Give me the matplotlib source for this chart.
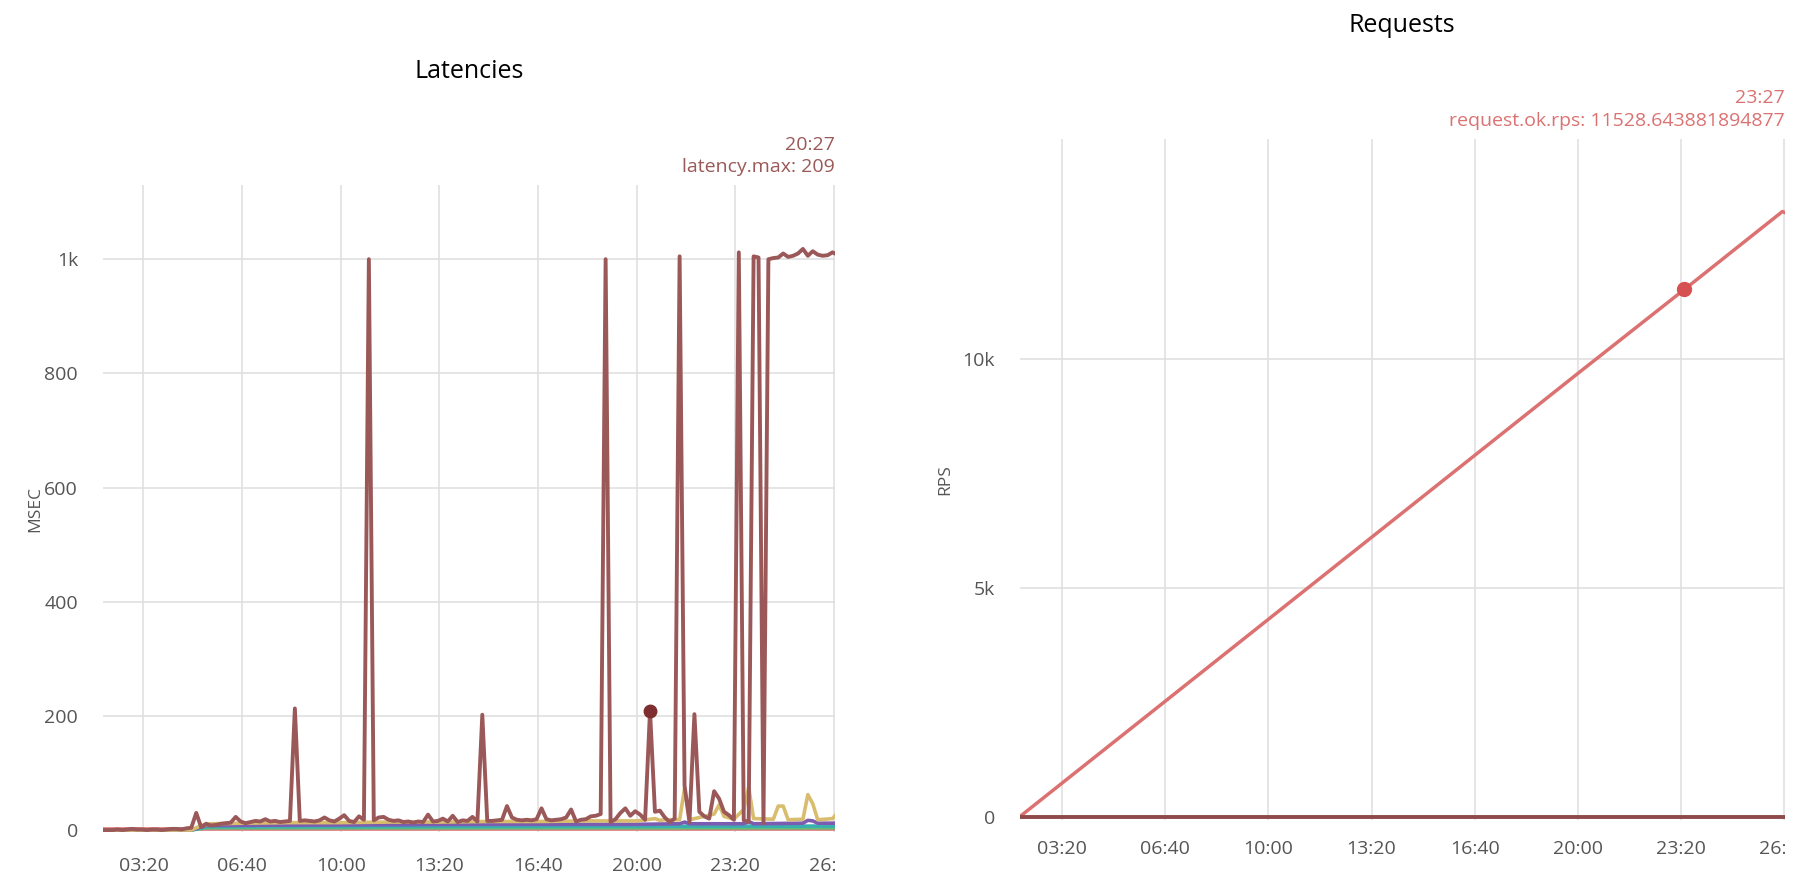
import matplotlib
matplotlib.use("Agg")
import matplotlib.pyplot as plt
import numpy as np
from matplotlib.ticker import FuncFormatter, FixedLocator
from matplotlib.transforms import Bbox, TransformedBbox

plt.rcParams['font.family'] = ['Open Sans', 'DejaVu Sans']

# latency.max, one sample every 10 minutes starting at 01:57
t_start, t_step = 117, 10
latency_max = [
    0, 0, 0, 1, 0, 1, 2, 1, 1, 0,
    1, 1, 0, 1, 2, 2, 1, 3, 4, 30,
    5, 11, 8, 9, 11, 12, 13, 23, 15, 12,
    14, 16, 15, 19, 15, 16, 14, 15, 16, 213,
    16, 17, 16, 15, 17, 22, 17, 15, 20, 26,
    16, 14, 24, 18, 1000, 17, 22, 23, 18, 16,
    17, 14, 15, 13, 15, 14, 27, 15, 16, 20,
    15, 25, 14, 17, 16, 23, 15, 202, 16, 16,
    17, 18, 42, 22, 18, 17, 18, 17, 19, 38,
    19, 17, 18, 19, 22, 36, 15, 18, 19, 24,
    25, 28, 1000, 14, 19, 30, 38, 25, 33, 27,
    18, 209, 32, 34, 22, 14, 20, 1005, 78, 14,
    203, 32, 24, 20, 68, 55, 32, 26, 18, 1012,
    17, 14, 1005, 1003, 12, 1000, 1002, 1003, 1010, 1004,
    1006, 1010, 1018, 1006, 1014, 1008, 1006, 1007, 1012, 1008,
]
lat_times = t_start + t_step * np.arange(len(latency_max))

yellow_times = [117, 297, 317, 337, 400, 500, 600, 700, 800, 900, 1000, 1100, 1200,
                1237, 1247, 1257, 1287, 1297, 1307, 1357, 1367, 1377, 1397, 1417,
                1427, 1437, 1477, 1487, 1497, 1507, 1537, 1547, 1557, 1567, 1597, 1607]
yellow_vals = [0, 0, 8, 11, 12, 13, 13, 14, 14, 15, 15, 16, 16,
               20, 17, 18, 18, 73, 18, 28, 44, 24, 19, 36,
               75, 20, 19, 42, 42, 18, 19, 62, 46, 18, 20, 30]

purple_times = [117, 297, 327, 600, 900, 1200, 1287, 1297, 1307, 1417, 1427, 1437,
                1537, 1547, 1557, 1567, 1607]
purple_vals = [0, 0, 8, 9, 10, 10, 11, 14, 11, 11, 15, 11, 12, 17, 16, 12, 12]

teal_times = [117, 297, 327, 1607]
teal_vals = [0, 0, 6, 7]
green_times = [117, 297, 327, 1607]
green_vals = [0, 0, 4, 4]
pink_times = [117, 1607]
pink_vals = [1, 1]

# requests
rps_times = [117, 400, 600, 800, 1000, 1200, 1407, 1597, 1607]
rps_vals = [0, 2530, 4320, 6110, 7900, 9690, 11528.643881894877, 13230, 13180]
err_times = [117, 1607]
err_vals = [0, 0]

lat_hover = "20:27"
rps_hover = "23:27"

x_ticks = [200, 400, 600, 800, 1000, 1200, 1400, 1600]
x_range = (118, 1602)

BROWN = '#9b5858'
SALMON = '#dc7171'
TICK_COLOR = '#555555'
GRID_COLOR = '#e0e0e0'


def to_min(s):
    h, m = s.split(':')
    return int(h) * 60 + int(m)


def fmt_time(v, pos=None):
    v = int(round(v))
    return f"{v // 60:02d}:{v % 60:02d}"


def fmt_k(v, pos=None):
    if v >= 1000:
        return f"{v / 1000:g}k"
    return f"{v:g}"


def style_axes(ax, yticks, ylim, xpad, ypad):
    ax.set_xlim(*x_range)
    ax.set_ylim(*ylim)
    ax.xaxis.set_major_locator(FixedLocator(x_ticks))
    ax.xaxis.set_major_formatter(FuncFormatter(fmt_time))
    ax.yaxis.set_major_locator(FixedLocator(yticks))
    ax.yaxis.set_major_formatter(FuncFormatter(fmt_k))
    ax.grid(True, color=GRID_COLOR, lw=1.2)
    ax.set_axisbelow(True)
    for sp in ax.spines.values():
        sp.set_visible(False)
    ax.tick_params(axis='x', length=0, pad=xpad, labelsize=14, labelcolor=TICK_COLOR)
    ax.tick_params(axis='y', length=0, pad=ypad, labelsize=14, labelcolor=TICK_COLOR)


fig = plt.figure(figsize=(18.12, 8.92), dpi=100)
ax1 = fig.add_axes([0.05684, 0.0669, 0.40397, 0.7257])
ax2 = fig.add_axes([0.5629, 0.0811, 0.4222, 0.7635])

# Latencies
ax1.plot(pink_times, pink_vals, color='#e07a7a', lw=2.6)
ax1.plot(green_times, green_vals, color='#5cbf7a', lw=2.6)
ax1.plot(teal_times, teal_vals, color='#3aaeb0', lw=2.6)
ax1.plot(purple_times, purple_vals, color='#7c5cb0', lw=2.6)
ax1.plot(yellow_times, yellow_vals, color='#d9bd6e', lw=2.6)
ax1.plot(lat_times, latency_max, color=BROWN, lw=2.8)
i = list(lat_times).index(to_min(lat_hover))
ax1.plot(lat_times[i], latency_max[i], 'o', color='#7e2e2e', ms=9)
style_axes(ax1, [0, 200, 400, 600, 800, 1000], (-4, 1130), 18, 18)
ax1.set_ylabel('MSEC', fontsize=12.5, color=TICK_COLOR)
ax1.yaxis.set_label_coords(-0.082, 0.5)

# Requests
ax2.plot(rps_times, rps_vals, color=SALMON, lw=2.5)
ax2.plot(err_times, err_vals, color='#8e4a4a', lw=2.8)
j = rps_times.index(to_min(rps_hover))
ax2.plot(rps_times[j], rps_vals[j], 'o', color='#d65252', ms=10)
style_axes(ax2, [0, 5000, 10000], (-60, 14823), 15, 18)
ax2.set_ylabel('RPS', fontsize=12.5, color=TICK_COLOR)
ax2.yaxis.set_label_coords(-0.0875, 0.5)

fig.text(469 / 1812, 1 - 71 / 892, 'Latencies', ha='center', va='center', fontsize=18, color='black')
fig.text(1402 / 1812, 1 - 25 / 892, 'Requests', ha='center', va='center', fontsize=18, color='black')

fig.text(835 / 1812, 1 - 145 / 892, lat_hover, ha='right', va='center', fontsize=14, color=BROWN)
fig.text(835 / 1812, 1 - 167 / 892, f"latency.max: {latency_max[i]}", ha='right', va='center',
         fontsize=14, color=BROWN)
fig.text(1785 / 1812, 1 - 98 / 892, rps_hover, ha='right', va='center', fontsize=14, color=SALMON)
fig.text(1785 / 1812, 1 - 121 / 892, f"request.ok.rps: {rps_vals[j]}", ha='right', va='center',
         fontsize=14, color=SALMON)

# clip the last time label at the right edge of the plot, like the original
fig.canvas.draw()
for ax in (ax1, ax2):
    box = TransformedBbox(Bbox([[-0.2, -0.3], [1.0, 1.0]]), ax.transAxes)
    for lab in ax.get_xticklabels():
        lab.set_clip_box(box)
        lab.set_clip_on(True)

fig.savefig('out.png', dpi=100)
